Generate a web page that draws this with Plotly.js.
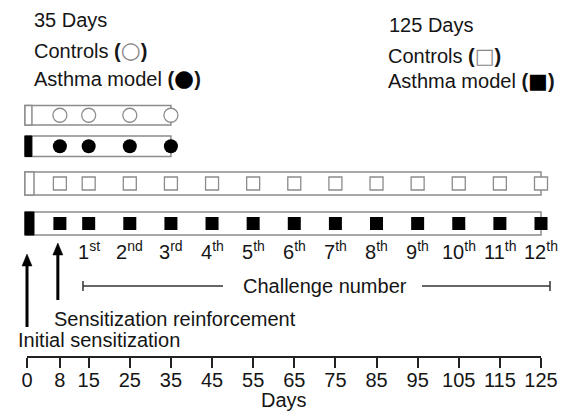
<!DOCTYPE html>
<html><head><meta charset="utf-8">
<script src="https://cdn.plot.ly/plotly-3.0.1.min.js"></script>
<style>html,body{margin:0;padding:0;background:#fff}</style>
</head><body><div id="chart" style="width:565px;height:416px"></div>
<script>
// ---- data ----
const axisDays = [0, 8, 15, 25, 35, 45, 55, 65, 75, 85, 95, 105, 115, 125];
const sensitizationDays = [0, 8];            // initial sensitization, reinforcement
const challengeDays = [15, 25, 35, 45, 55, 65, 75, 85, 95, 105, 115, 125];
const challengeLabels = ['1<sup>st</sup>', '2<sup>nd</sup>', '3<sup>rd</sup>', '4<sup>th</sup>', '5<sup>th</sup>', '6<sup>th</sup>',
  '7<sup>th</sup>', '8<sup>th</sup>', '9<sup>th</sup>', '10<sup>th</sup>', '11<sup>th</sup>', '12<sup>th</sup>'];
const protocol35Days = [8, 15, 25, 35];
const protocol125Days = [8, 15, 25, 35, 45, 55, 65, 75, 85, 95, 105, 115, 125];
const groupNames = ['35 Days controls', '35 Days asthma model', '125 Days controls', '125 Days asthma model'];
const groupDurations = [35, 35, 125, 125];

// ---- layout helpers (pixel positions) ----
const W = 565, H = 416;
const px = v => v / W;
const X0 = 27, X125 = 541;                       // pixel of day 0 and day 125
const pxPerDay = (X125 - X0) / 125;
const R2 = [-4, 129];                            // wider range for the timeline rows
const rowTop = [105.5, 136, 172, 212];
const rowBottom = [125, 156.5, 195, 235];
const rowMid = rowTop.map((t, i) => (t + rowBottom[i]) / 2);
const FONT = 'Liberation Sans, Arial, Helvetica, sans-serif';
const TXT = '#151515';
const GRAY = '#8c8c8c';

const traces = [
  { x: axisDays, y: axisDays.map(() => -50), xaxis: 'x', yaxis: 'y', mode: 'markers',
    marker: { opacity: 0 }, hoverinfo: 'skip', showlegend: false },
  { name: groupNames[0], x: protocol35Days, y: protocol35Days.map(() => rowMid[0]), xaxis: 'x2', yaxis: 'y',
    mode: 'markers', marker: { symbol: 'circle', size: 14, color: '#fff', line: { color: GRAY, width: 1.3 } }, hoverinfo: 'x+name' },
  { name: groupNames[1], x: protocol35Days, y: protocol35Days.map(() => rowMid[1]), xaxis: 'x2', yaxis: 'y',
    mode: 'markers', marker: { symbol: 'circle', size: 14, color: '#000', line: { width: 0 } }, hoverinfo: 'x+name' },
  { name: groupNames[2], x: protocol125Days, y: protocol125Days.map(() => rowMid[2]), xaxis: 'x2', yaxis: 'y',
    mode: 'markers', marker: { symbol: 'square', size: 13, color: '#fff', line: { color: GRAY, width: 1.3 } }, hoverinfo: 'x+name' },
  { name: groupNames[3], x: protocol125Days, y: protocol125Days.map(() => rowMid[3]), xaxis: 'x2', yaxis: 'y',
    mode: 'markers', marker: { symbol: 'square', size: 13, color: '#000', line: { width: 0 } }, hoverinfo: 'x+name' }
];

const shapes = [];
groupDurations.forEach((d, i) => {
  shapes.push({ type: 'rect', layer: 'below', xref: 'x2', yref: 'y', x0: -0.5, x1: d, y0: rowTop[i], y1: rowBottom[i],
    line: { color: GRAY, width: 1.5 }, fillcolor: '#fff' });
  const asthma = (i % 2 === 1);
  const w = i < 2 ? 1.7 : 2.2;
  shapes.push({ type: 'rect', layer: 'below', xref: 'x2', yref: 'y', x0: -0.5, x1: -0.5 + w, y0: rowTop[i], y1: rowBottom[i],
    line: { color: asthma ? '#000' : GRAY, width: asthma ? 1 : 1.5 }, fillcolor: asthma ? '#000' : '#fff' });
});
// arrows for sensitization days
const arrowTip = [254, 243], arrowBase = [327, 300];
const hw = 5 / pxPerDay;
sensitizationDays.forEach((d, i) => {
  const dd = d === 0 ? 0 : d - 0.5;
  shapes.push({ type: 'line', xref: 'x2', yref: 'y', x0: dd, x1: dd, y0: arrowBase[i], y1: arrowTip[i] + 8,
    line: { color: '#000', width: 3 } });
  shapes.push({ type: 'path', xref: 'x2', yref: 'y',
    path: `M ${dd - hw} ${arrowTip[i] + 12} L ${dd + hw} ${arrowTip[i] + 12} L ${dd} ${arrowTip[i]} Z`,
    fillcolor: '#000', line: { color: '#000', width: 0.5 } });
});
// challenge number bracket
const cy = 286;
[[83, 223], [422, 550]].forEach(([a, b]) => {
  shapes.push({ type: 'line', xref: 'paper', yref: 'y', x0: px(a), x1: px(b), y0: cy, y1: cy, line: { color: '#333', width: 1.5 } });
});
[83, 550].forEach(a => {
  shapes.push({ type: 'line', xref: 'paper', yref: 'y', x0: px(a), x1: px(a), y0: cy - 5, y1: cy + 5, line: { color: '#333', width: 1.5 } });
});

const ann = (text, x, y, xanchor, xref) => ({ text, x, y, xref: xref || 'paper', yref: 'y', xanchor: xanchor || 'left',
  yanchor: 'middle', showarrow: false, font: { family: FONT, size: 20, color: TXT } });
const sym = (ch, color, size) => `<span style="font-family:DejaVu Sans;font-size:${size}px;color:${color}">${ch}</span>`;

const annotations = [
  ann('35 Days', px(32), 20),
  ann('Controls <b>(</b>' + sym('○', '#888', 23) + '<b>)</b>', px(32), 50),
  ann('Asthma model <b>(</b>' + sym('●', '#000', 23) + '<b>)</b>', px(32), 78),
  ann('125 Days', px(387), 25),
  ann('Controls <b>(</b>' + sym('□', '#888', 21) + '<b>)</b>', px(386), 56),
  ann('Asthma model <b>(</b>' + sym('■', '#000', 21) + '<b>)</b>', px(386), 81),
  ann('Challenge number', px(325), cy, 'center'),
  ann('Sensitization reinforcement', px(52), 319),
  ann('Initial sensitization', px(16), 340),
  ann('Days', px((X0 + X125) / 2), 400, 'center')
];
challengeDays.forEach((d, i) => annotations.push(ann(challengeLabels[i], d, 250, 'center', 'x2')));

const layout = {
  width: W, height: H, margin: { l: 0, r: 0, t: 0, b: 0 },
  paper_bgcolor: '#fff', plot_bgcolor: 'rgba(0,0,0,0)', showlegend: false,
  font: { family: FONT, size: 20, color: TXT },
  xaxis: { domain: [px(X0), px(X125)], range: [0, 125], anchor: 'free', position: 1 - 357 / H, side: 'bottom',
    tickmode: 'array', tickvals: axisDays, ticktext: axisDays.map(String),
    ticks: 'outside', ticklen: 10, tickwidth: 1.5, tickcolor: '#222', ticklabelstandoff: -5,
    showline: true, linecolor: '#222', linewidth: 1.5, showgrid: false, zeroline: false,
    tickfont: { family: FONT, size: 20, color: TXT }, fixedrange: true },
  xaxis2: { domain: [px(X0 + R2[0] * pxPerDay), px(X0 + R2[1] * pxPerDay)], range: R2, anchor: 'y',
    visible: false, fixedrange: true },
  yaxis: { domain: [0, 1], range: [H, 0], visible: false, fixedrange: true },
  shapes, annotations
};
Plotly.newPlot('chart', traces, layout, { displayModeBar: false });
</script></body></html>
